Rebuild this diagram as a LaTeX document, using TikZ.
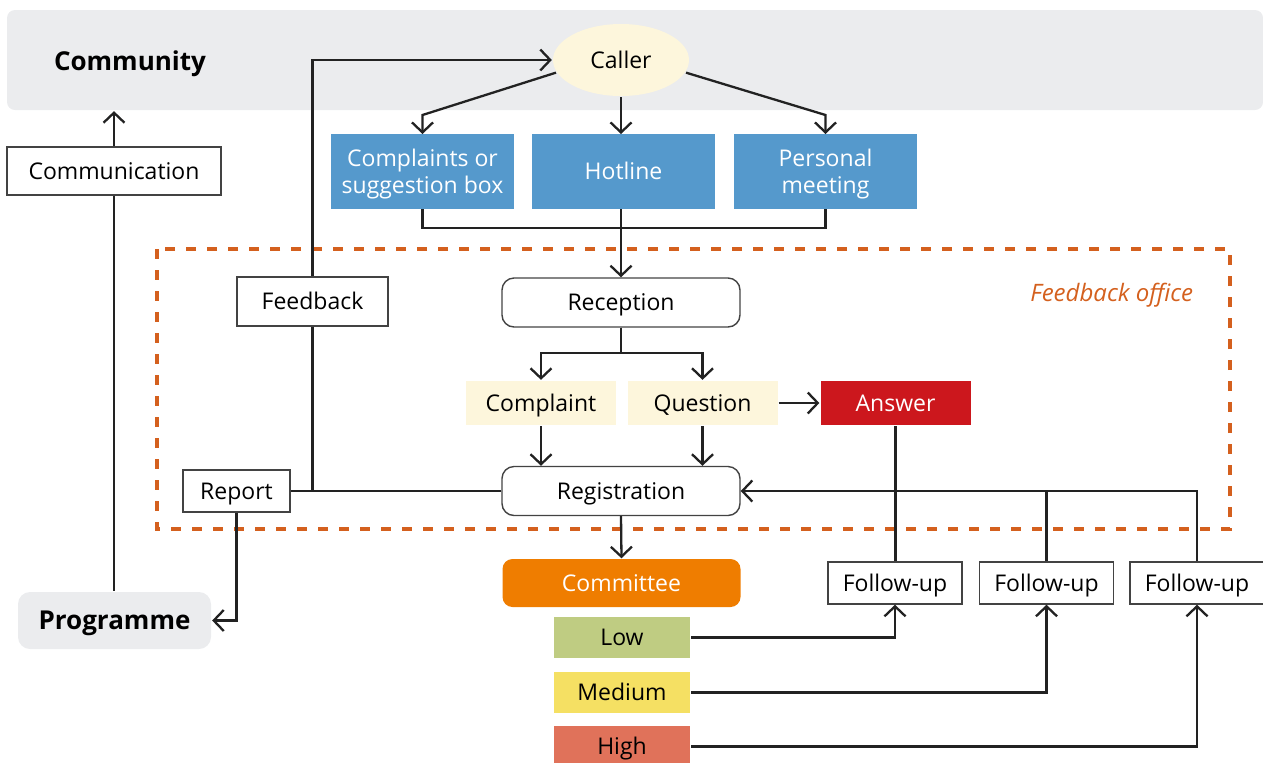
\documentclass[tikz,border=0pt]{standalone}
\usepackage{fontspec}
\setmainfont{Open Sans}
\usepackage {tikz}
\usetikzlibrary {positioning}
\usetikzlibrary{arrows.meta,shapes.geometric}
\definecolor{bandgray}{HTML}{EBECEE}
\definecolor{cream}{HTML}{FDF6DC}
\definecolor{chanblue}{HTML}{5599CC}
\definecolor{answred}{HTML}{CC171D}
\definecolor{commorange}{HTML}{EF7D00}
\definecolor{lowgreen}{HTML}{BFCC82}
\definecolor{medyellow}{HTML}{F5E063}
\definecolor{highred}{HTML}{E0725A}
\definecolor{officeorange}{HTML}{D4601E}
\definecolor{ink}{HTML}{222222}
\tikzset{edge/.style = {->,> = {Straight Barb[length=5pt,width=10.5pt]}}}

\begin{document}
\begin{tikzpicture}[x=0.5pt,y=-0.5pt,line width=1.15pt,draw=ink,
    font=\fontsize{11.5}{13.5}\selectfont,
    one line/.style={text height=8.2pt,text depth=0pt},
    two lines/.style={text height=21.7pt,text depth=0pt},
    bold line/.style={font=\fontsize{13}{15}\selectfont\bfseries,text height=9.3pt,text depth=0pt},
    text box/.style={one line,draw=ink!85,line width=0.7pt,fill=white,inner sep=0pt,minimum height=21pt},
    chan box/.style={fill=chanblue,text=white,align=center,inner sep=0pt,outer sep=0pt,minimum width=91.5pt,minimum height=37.5pt},
    step box/.style={one line,draw=ink!85,line width=0.7pt,rounded corners=6pt,inner sep=0pt,minimum width=119pt,minimum height=24.5pt},
    kind box/.style={one line,fill=cream,inner sep=0pt,minimum width=75pt,minimum height=22pt},
    level box/.style={one line,inner sep=0pt,minimum width=68pt,minimum height=20.5pt},
    follow box/.style={text box,minimum width=67pt}]
\useasboundingbox (0,0) rectangle (1263,762);
% community band and feedback office
\node[fill=bandgray,rounded corners=4pt,minimum width=628pt,minimum height=50pt,inner sep=0pt] (community) at (635,60) {};
\node[bold line] at (130,61) {Community};
\draw[officeorange,line width=1.6pt,dash pattern=on 5pt off 5.5pt] (157,249) rectangle (1230,529);
\node[officeorange,font=\fontsize{12}{14}\selectfont\itshape,text height=8.5pt,text depth=0pt,anchor=east] at (1201,293) {Feedback office};
% nodes
\node[ellipse,one line,fill=cream,minimum width=68pt,minimum height=36pt,inner sep=0pt] (caller) at (621,60) {Caller};
\node[chan box,one line] (hotline) at (623.5,171.5) {Hotline};
\node[chan box,two lines,left=9pt of hotline] (box) {Complaints or\\suggestion box};
\node[chan box,two lines,right=9.5pt of hotline] (meeting) {Personal\\meeting};
\node[text box,minimum width=107pt,minimum height=24pt] (comm) at (114,171) {Communication};
\node[text box,minimum width=75.5pt,minimum height=24.5pt] (feedback) at (312.5,301.5) {Feedback};
\node[step box] (reception) at (621,302.5) {Reception};
\node[kind box] (complaint) at (541,403) {Complaint};
\node[kind box] (question) at (702.5,403) {Question};
\node[kind box,fill=answred,text=white] (answer) at (895.5,403) {Answer};
\node[step box] (registration) at (621,491) {Registration};
\node[text box,minimum width=53.5pt] (report) at (236.5,491) {Report};
\node[bold line,fill=bandgray,rounded corners=6pt,minimum width=96.5pt,minimum height=28.5pt,inner sep=0pt] (programme) at (114.5,620.5) {Programme};
\node[step box,draw=none,fill=commorange,text=white,rounded corners=5pt,minimum height=24pt] (committee) at (621.5,583) {Committee};
\node[level box,fill=lowgreen] (low) at (622,637.5) {Low};
\node[level box,fill=medyellow] (medium) at (622,692.5) {Medium};
\node[level box,fill=highred] (high) at (622,746.5) {High};
\node[follow box] (follow1) at (895,583) {Follow-up};
\node[follow box] (follow2) at (1046.5,583) {Follow-up};
\node[follow box] (follow3) at (1197,583) {Follow-up};
% connectors
\draw[edge] (comm.north) -- (comm.north |- community.south);
\draw (comm.south) -- (comm.south |- programme.north);
\draw[edge] (caller.191) -- ([yshift=9.5pt]box.north) -- (box.north);
\draw[edge] (caller.south) -- (caller.south |- hotline.north);
\draw[edge] (caller.349) -- ([yshift=9.5pt]meeting.north) -- (meeting.north);
\draw (box.south) -- ++(0,-9.5pt) -| (meeting.south);
\draw[edge] (reception.north |- hotline.south) -- (reception.north);
\draw[edge] (feedback.north) |- (caller.west);
\draw (registration.west) -- (report.east);
\draw (feedback.south) -- (feedback.south |- report.east);
\draw[edge] (report.south) |- (programme.east);
\draw[edge] (reception.south) -- ++(0,-12.5pt) -| (complaint.north);
\draw[edge] (reception.south) -- ++(0,-12.5pt) -| (question.north);
\draw[edge] (complaint.south) -- (complaint.south |- registration.north);
\draw[edge] (question.south) -- (question.south |- registration.north);
\draw[edge] (question.east) -- (answer.west);
\draw[edge] (registration.south) -- (committee.north);
\draw (answer.south) -- (answer.south |- follow1.north);
\draw (follow2.north) -- (follow2.north |- registration.east);
\draw[edge] (follow3.north) |- (registration.east);
\draw[edge] (low.east) -| (follow1.south);
\draw[edge] (medium.east) -| (follow2.south);
\draw[edge] (high.east) -| (follow3.south);
\end{tikzpicture}
\end{document}
